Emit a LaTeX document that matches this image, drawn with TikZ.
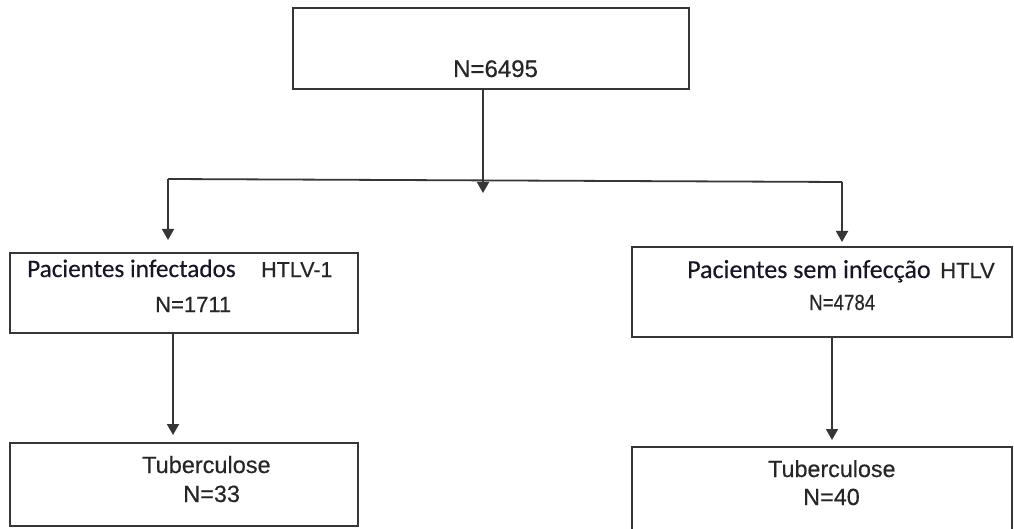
\documentclass[tikz,border=0pt]{standalone}
\usepackage{fontspec}
\setmainfont[FakeBold=0.4]{Liberation Sans}
\newfontfamily\calib[FakeBold=0.3]{Carlito}
\usetikzlibrary{arrows.meta}
\definecolor{linec}{HTML}{363636}
\definecolor{txtc}{HTML}{262626}
\definecolor{txtb}{HTML}{161624}
\tikzset{
  x=1pt,y=1pt,
  box/.style={draw=linec, line width=1.8pt, fill=none, inner sep=0pt},
  conn/.style={draw=linec, line width=1.8pt},
  arr/.style={conn, -{Triangle[width=12pt,length=11pt]}},
  lbl/.style={anchor=base west, inner sep=0pt, text=txtc},
  lblc/.style={anchor=base west, inner sep=0pt, text=txtb},
}
\newcommand{\fs}[1]{\fontsize{#1}{#1}\selectfont}
\begin{document}
\begin{tikzpicture}
\clip (0,0) rectangle (1014,528);
\fill[white] (0,0) rectangle (1014,528);
% boxes
\node[box, minimum width=396pt, minimum height=81pt] (top) at (491,479.5) {};
\node[box, minimum width=348pt, minimum height=80pt] (left) at (184,235) {};
\node[box, minimum width=380pt, minimum height=90pt] (right) at (822,236) {};
\node[box, minimum width=348pt, minimum height=83pt] (bl) at (184,43.5) {};
\node[box, minimum width=380pt, minimum height=100pt] (br) at (822,31) {};
% texts
\node[lbl] (t0) at (453,451) {\fs{24}N=6495};
\node[lblc] (t1) at (27,251) {\calib\fs{25.2}Pacientes infectados};
\node[lbl] (t2) at (261,251) {\fs{21.5}HTLV-1};
\node[lbl] (t3) at (155,216) {\fs{22}N=1711};
\node[lblc] (t4) at (687,250) {\calib\fs{26}Pacientes sem infecção};
\node[lbl] (t5) at (940,250) {\fs{22}HTLV};
\node[lbl] (t6) at (809,218) {\scalebox{0.85}[1]{\fs{22}N=4784}};
\node[lbl] (t7) at (142,55) {\fs{23.5}Tuberculose};
\node[lbl] (t8) at (183,26) {\fs{23.5}N=33};
\node[lbl] (t9) at (768,51) {\fs{23.3}Tuberculose};
\node[lbl] (t10) at (803,23) {\fs{23.4}N=40};
% connectors
\coordinate (hl) at (168,349);
\coordinate (hr) at (842,346);
\coordinate (mid) at (483,335);
\coordinate (le) at (168,288);
\coordinate (re) at (842,286);
\coordinate (lb) at (173,93);
\coordinate (rb) at (832,88);
\draw[arr] (top.south -| mid) -- (mid);
\draw[conn] (hl) -- (hr);
\draw[arr] (hl) -- (le);
\draw[arr] (hr) -- (re);
\draw[arr] (left.south -| lb) -- (lb);
\draw[arr] (right.south -| rb) -- (rb);
\end{tikzpicture}
\end{document}
